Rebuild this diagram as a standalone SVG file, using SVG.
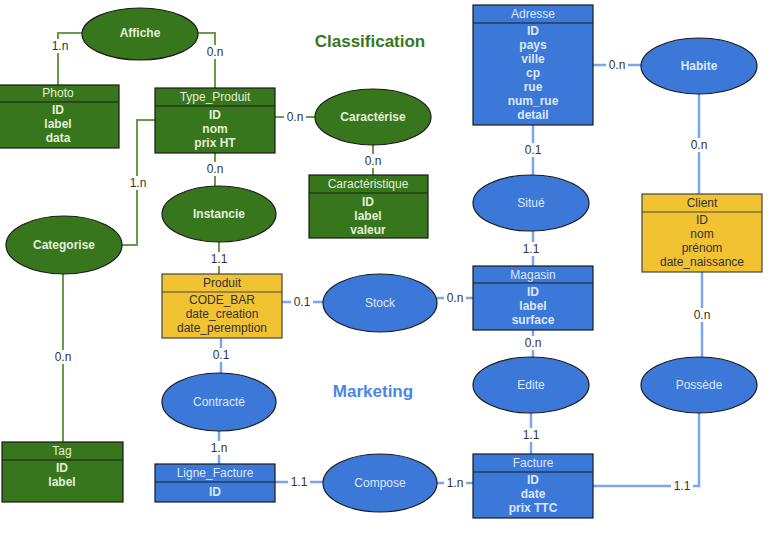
<svg xmlns="http://www.w3.org/2000/svg" width="784" height="540" viewBox="0 0 784 540">
<defs>
<rect id="lb" x="-11" y="-7" width="22" height="14" fill="#fff"/>
</defs>
<style>
text{font-family:"Liberation Sans",Arial,sans-serif;font-size:12px;text-anchor:middle;dominant-baseline:central}
.g rect,.g ellipse{fill:#38761d;stroke:#1a1a1a;stroke-width:1.2}
.b rect,.b ellipse{fill:#3c78d8;stroke:#1a1a1a;stroke-width:1.2}
.y rect{fill:#f1c232;stroke:#444;stroke-width:1.2}
.g line,.b line{stroke:#1a1a1a;stroke-width:1.2}
.y line{stroke:#444;stroke-width:1.2}
.g text{fill:#e2efd9}
.b text{fill:#dae8fc}
.y text{fill:#333}
.f{font-weight:bold}
.cg{fill:none;stroke:#6a9b49;stroke-width:2}
.cb{fill:none;stroke:#7aa6ec;stroke-width:2.5}
.lbl{fill:#333}
.title{font-size:17px;font-weight:bold}
</style>
<rect width="784" height="540" fill="#fff"/>
<text class="title" x="370" y="41" fill="#38761d">Classification</text>
<text class="title" x="373" y="391" fill="#4a86e8">Marketing</text>

<g id="connectors">
<path class="cg" d="M83,33 H58 V85"/>
<path class="cg" d="M198,33 H215 V88"/>
<path class="cg" d="M275,117 H315"/>
<path class="cg" d="M373,145 V175"/>
<path class="cg" d="M215,153 V186"/>
<path class="cg" d="M219,242 V274"/>
<path class="cg" d="M155,120 H137 V245 H122"/>
<path class="cg" d="M63,274 V442"/>
<path class="cb" d="M593,65 H642"/>
<path class="cb" d="M699,94 V194"/>
<path class="cb" d="M702,272 V357"/>
<path class="cb" d="M699,413 V486 H593"/>
<path class="cb" d="M533,125 V175"/>
<path class="cb" d="M533,231 V266"/>
<path class="cb" d="M282,302 H323"/>
<path class="cb" d="M437,298 H473"/>
<path class="cb" d="M533,330 V357"/>
<path class="cb" d="M531,413 V454"/>
<path class="cb" d="M221,338 V373"/>
<path class="cb" d="M219,431 V464"/>
<path class="cb" d="M275,482 H323"/>
<path class="cb" d="M437,483 H473"/>
<use href="#lb" x="60" y="46"/><text class="lbl" x="60" y="46">1.n</text>
<use href="#lb" x="215" y="52"/><text class="lbl" x="215" y="52">0.n</text>
<use href="#lb" x="295" y="117"/><text class="lbl" x="295" y="117">0.n</text>
<use href="#lb" x="373" y="161"/><text class="lbl" x="373" y="161">0.n</text>
<use href="#lb" x="215" y="169"/><text class="lbl" x="215" y="169">0.n</text>
<use href="#lb" x="219" y="259"/><text class="lbl" x="219" y="259">1.1</text>
<use href="#lb" x="138" y="183"/><text class="lbl" x="138" y="183">1.n</text>
<use href="#lb" x="63" y="357"/><text class="lbl" x="63" y="357">0.n</text>
<use href="#lb" x="617" y="65"/><text class="lbl" x="617" y="65">0.n</text>
<use href="#lb" x="699" y="145"/><text class="lbl" x="699" y="145">0.n</text>
<use href="#lb" x="702" y="315"/><text class="lbl" x="702" y="315">0.n</text>
<use href="#lb" x="682" y="486"/><text class="lbl" x="682" y="486">1.1</text>
<use href="#lb" x="533" y="150"/><text class="lbl" x="533" y="150">0.1</text>
<use href="#lb" x="531" y="249"/><text class="lbl" x="531" y="249">1.1</text>
<use href="#lb" x="302" y="302"/><text class="lbl" x="302" y="302">0.1</text>
<use href="#lb" x="455" y="298"/><text class="lbl" x="455" y="298">0.n</text>
<use href="#lb" x="533" y="343"/><text class="lbl" x="533" y="343">0.n</text>
<use href="#lb" x="531" y="435"/><text class="lbl" x="531" y="435">1.1</text>
<use href="#lb" x="221" y="355"/><text class="lbl" x="221" y="355">0.1</text>
<use href="#lb" x="219" y="448"/><text class="lbl" x="219" y="448">1.n</text>
<use href="#lb" x="299" y="482"/><text class="lbl" x="299" y="482">1.1</text>
<use href="#lb" x="455" y="483"/><text class="lbl" x="455" y="483">1.n</text>
</g>

<g id="Photo" class="g"><rect x="-1" y="85" width="120" height="63"/><line x1="-1" y1="102" x2="119" y2="102"/>
<text x="58" y="93">Photo</text><text class="f" x="58" y="110">ID</text><text class="f" x="58" y="124">label</text><text class="f" x="58" y="138">data</text></g>

<g id="Type_Produit" class="g"><rect x="155" y="88" width="120" height="65"/><line x1="155" y1="106" x2="275" y2="106"/>
<text x="215" y="97">Type_Produit</text><text class="f" x="215" y="115">ID</text><text class="f" x="215" y="129">nom</text><text class="f" x="215" y="143">prix HT</text></g>

<g id="Caracteristique" class="g"><rect x="309" y="175" width="119" height="63"/><line x1="309" y1="193" x2="428" y2="193"/>
<text x="368" y="184">Caractéristique</text><text class="f" x="368" y="202">ID</text><text class="f" x="368" y="216">label</text><text class="f" x="368" y="230">valeur</text></g>

<g id="Tag" class="g"><rect x="2" y="442" width="121" height="60"/><line x1="2" y1="460" x2="123" y2="460"/>
<text x="62" y="451">Tag</text><text class="f" x="62" y="468">ID</text><text class="f" x="62" y="482">label</text></g>

<g id="Adresse" class="b"><rect x="473" y="5" width="120" height="120"/><line x1="473" y1="23" x2="593" y2="23"/>
<text x="533" y="14">Adresse</text><text class="f" x="533" y="31">ID</text><text class="f" x="533" y="45">pays</text><text class="f" x="533" y="59">ville</text><text class="f" x="533" y="73">cp</text><text class="f" x="533" y="87">rue</text><text class="f" x="533" y="101">num_rue</text><text class="f" x="533" y="115">detail</text></g>

<g id="Magasin" class="b"><rect x="473" y="266" width="120" height="64"/><line x1="473" y1="283" x2="593" y2="283"/>
<text x="533" y="274.5">Magasin</text><text class="f" x="533" y="292">ID</text><text class="f" x="533" y="306">label</text><text class="f" x="533" y="320">surface</text></g>

<g id="Facture" class="b"><rect x="473" y="454" width="120" height="64"/><line x1="473" y1="472" x2="593" y2="472"/>
<text x="533" y="463">Facture</text><text class="f" x="533" y="480">ID</text><text class="f" x="533" y="494">date</text><text class="f" x="533" y="508">prix TTC</text></g>

<g id="Ligne_Facture" class="b"><rect x="155" y="464" width="120" height="38"/><line x1="155" y1="482" x2="275" y2="482"/>
<text x="215" y="473">Ligne_Facture</text><text class="f" x="215" y="492">ID</text></g>

<g id="Produit" class="y"><rect x="162" y="274" width="120" height="64"/><line x1="162" y1="292" x2="282" y2="292"/>
<text x="222" y="283">Produit</text><text x="222" y="300">CODE_BAR</text><text x="222" y="314">date_creation</text><text x="222" y="328">date_peremption</text></g>

<g id="Client" class="y"><rect x="642" y="194" width="120" height="78"/><line x1="642" y1="212" x2="762" y2="212"/>
<text x="702" y="203">Client</text><text x="702" y="220">ID</text><text x="702" y="234">nom</text><text x="702" y="248">prénom</text><text x="702" y="262">date_naissance</text></g>

<g id="Affiche" class="g"><ellipse cx="140" cy="34" rx="58" ry="26"/><text class="f" x="140" y="33">Affiche</text></g>
<g id="Caracterise" class="g"><ellipse cx="373" cy="117" rx="58" ry="28"/><text class="f" x="373" y="117">Caractérise</text></g>
<g id="Instancie" class="g"><ellipse cx="219" cy="214" rx="57" ry="28"/><text class="f" x="219" y="214">Instancie</text></g>
<g id="Categorise" class="g"><ellipse cx="64" cy="245" rx="58" ry="29"/><text class="f" x="64" y="245">Categorise</text></g>

<g id="Habite" class="b"><ellipse cx="699" cy="66" rx="58" ry="28"/><text class="f" x="699" y="66">Habite</text></g>
<g id="Situe" class="b"><ellipse cx="531" cy="203" rx="58" ry="28"/><text x="531" y="203">Situé</text></g>
<g id="Stock" class="b"><ellipse cx="380" cy="303" rx="57" ry="29"/><text x="380" y="303">Stock</text></g>
<g id="Edite" class="b"><ellipse cx="531" cy="385" rx="58" ry="28"/><text x="531" y="385">Edite</text></g>
<g id="Possede" class="b"><ellipse cx="699" cy="385" rx="58" ry="28"/><text x="699" y="385">Possède</text></g>
<g id="Contracte" class="b"><ellipse cx="219" cy="402" rx="57" ry="29"/><text x="219" y="402">Contracté</text></g>
<g id="Compose" class="b"><ellipse cx="380" cy="483" rx="57" ry="29"/><text x="380" y="483">Compose</text></g>
</svg>
